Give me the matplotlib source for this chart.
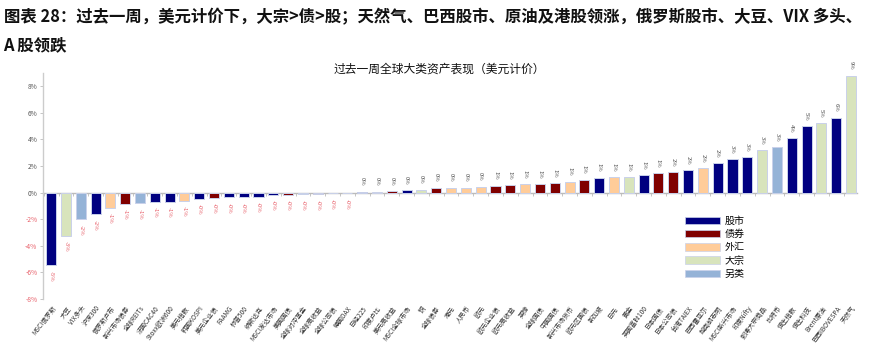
import matplotlib
matplotlib.use("Agg")
import matplotlib.pyplot as plt
from matplotlib.patches import Patch
import numpy as np

plt.rcParams['font.family'] = ['Noto Sans CJK SC', 'DejaVu Sans']
plt.rcParams['axes.unicode_minus'] = False

# asset class colours
cls_colors = {
    '股市': '#000080',
    '债券': '#800000',
    '外汇': '#FFCC99',
    '大宗': '#D8E4BC',
    '另类': '#95B3D7',
}

assets = [
    'MSCI俄罗斯', '大豆', 'VIX多头', '沪深300', '俄罗斯卢布', '新兴市场债券', '全球REITs',
    '法国CAC40', 'Stoxx欧洲600', '美元指数', '韩国KOSPI', '美元企业债', 'FAAMG', '标普500',
    '纳斯达克', 'MSCI发达市场', '美国国债', '全球对冲基金', '全球高收益', '全球公司债', '德国DAX',
    '日经225', '印度卢比', '美元高收益', 'MSCI全球市场', '铜', '全球债券', '港元', '人民币',
    '欧元', '欧元企业债', '欧元高收益', '英镑', '全球国债', '中国国债', '新兴市场货币',
    '欧元区国债', '新加坡', '日元', '黄金', '英国富时100', '日本国债', '日本公司债',
    '台湾TAIEX', '巴西雷亚尔', '越南胡志明', 'MSCI新兴市场', '印度Nifty', '彭博大宗商品',
    '比特币', '恒生指数', '恒生科技', 'Brent原油', '巴西IBOVESPA', '天然气',
]

classes = [
    '股市', '大宗', '另类', '股市', '外汇', '债券', '另类',
    '股市', '股市', '外汇', '股市', '债券', '股市', '股市',
    '股市', '股市', '债券', '另类', '债券', '债券', '股市',
    '股市', '外汇', '债券', '股市', '大宗', '债券', '外汇', '外汇',
    '外汇', '债券', '债券', '外汇', '债券', '债券', '外汇',
    '债券', '股市', '外汇', '大宗', '股市', '债券', '债券',
    '股市', '外汇', '股市', '股市', '股市', '大宗',
    '另类', '股市', '股市', '大宗', '股市', '大宗',
]

# weekly return, %
returns = [
    -5.44, -3.23, -1.98, -1.63, -1.13, -0.83, -0.80,
    -0.67, -0.67, -0.60, -0.45, -0.37, -0.33, -0.33,
    -0.30, -0.17, -0.17, -0.13, -0.13, -0.05, -0.05,
    0.08, 0.08, 0.13, 0.18, 0.23, 0.38, 0.38, 0.38,
    0.45, 0.53, 0.58, 0.65, 0.65, 0.73, 0.83,
    0.98, 1.13, 1.15, 1.18, 1.33, 1.48, 1.55,
    1.68, 1.85, 2.20, 2.53, 2.68, 3.23,
    3.40, 4.10, 4.98, 5.25, 5.65, 8.80,
]

ymin, ymax = -8, 9

fig = plt.figure(figsize=(8.79, 3.47), dpi=100)
ax = fig.add_axes([0.0489, 0.1383, 0.926, 0.6513])

x = np.arange(len(assets))
colors = [cls_colors[c] for c in classes]
ax.bar(x, returns, width=0.68, color=colors, edgecolor='#c9d1ea', linewidth=0.7, zorder=2)

# value labels
for xi, v in zip(x, returns):
    txt = f"{v:.0f}%"
    if v >= 0:
        ax.annotate(txt, (xi, v), xytext=(0, 4), textcoords='offset points',
                    ha='center', va='bottom', rotation=-90, fontsize=4.2, color='#555555')
    else:
        ax.annotate(txt, (xi, v), xytext=(0, -4), textcoords='offset points',
                    ha='center', va='top', rotation=-90, fontsize=4.2, color='#e8606a')

ax.set_xlim(-0.55, len(assets) - 1 + 0.4)
ax.set_ylim(ymin, ymax)

ax.set_yticks(np.arange(-8, 9, 2))
ax.set_yticklabels([f"{t}%" for t in range(-8, 9, 2)])
for lbl, t in zip(ax.get_yticklabels(), range(-8, 9, 2)):
    lbl.set_color('#e8606a' if t < 0 else '#555555')
ax.tick_params(axis='y', labelsize=4.8, length=2, width=0.6, color='#bbbbbb', pad=2)

ax.set_xticks(x)
ax.set_xticklabels(assets, rotation=53, ha='right', rotation_mode='anchor',
                   fontsize=4.7, color='#333333')
ax.tick_params(axis='x', length=0, pad=4)

for s in ['top', 'right', 'bottom']:
    ax.spines[s].set_visible(False)
ax.spines['left'].set_color('#cccccc')
ax.spines['left'].set_linewidth(1.0)

# zero line with category ticks
zero_ax = ax.secondary_xaxis((0 - ymin) / (ymax - ymin))
zero_ax.set_xticks(np.arange(-0.5, len(assets), 1.0))
zero_ax.set_xticklabels([])
zero_ax.tick_params(length=2, width=0.6, color='#bbbbbb', direction='out')
zero_ax.spines['bottom'].set_color('#bbbbbb')
zero_ax.spines['bottom'].set_linewidth(1.0)

handles = [Patch(facecolor=c, edgecolor='#c9d1ea', linewidth=0.5) for c in cls_colors.values()]
fig.legend(handles, list(cls_colors.keys()), loc='upper left',
           bbox_to_anchor=(0.779, 0.378), frameon=False, fontsize=7.2,
           handlelength=3.5, handleheight=0.8, handletextpad=0.5,
           labelspacing=0.33, borderpad=0, borderaxespad=0)

fig.text(0.5, 0.80, '过去一周全球大类资产表现（美元计价）', ha='center', va='center',
         fontsize=8.5, fontweight='medium', color='#111111')

fig.text(0.004, 0.95, '图表 28：过去一周，美元计价下，大宗>债>股；天然气、巴西股市、原油及港股领涨，俄罗斯股市、大豆、VIX 多头、',
         ha='left', va='center', fontsize=11.8, fontweight='bold', color='#111111')
fig.text(0.004, 0.87, 'A 股领跌', ha='left', va='center', fontsize=11.8,
         fontweight='bold', color='#111111')

fig.savefig('out.png', dpi=100)
